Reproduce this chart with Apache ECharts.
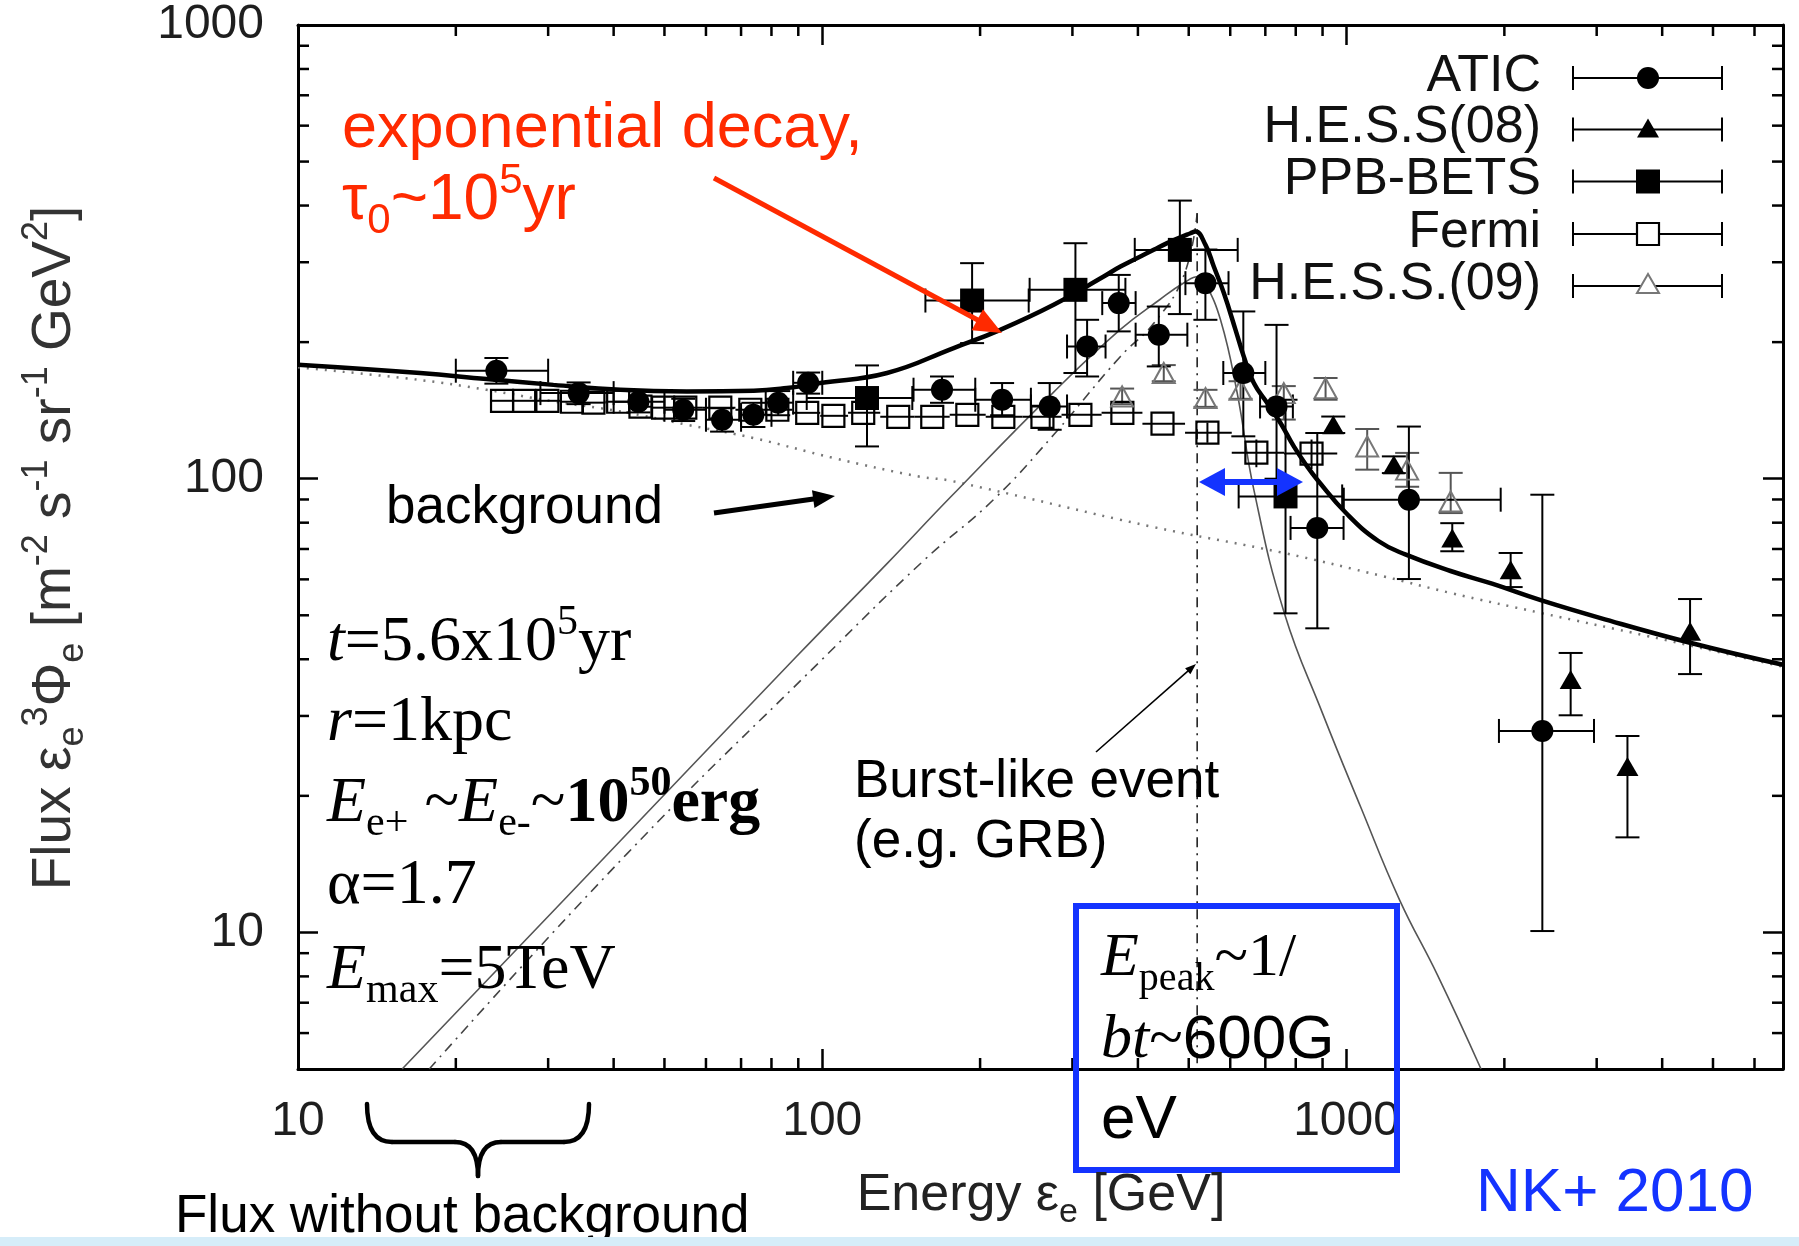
<!DOCTYPE html>
<html><head><meta charset="utf-8">
<script src="https://cdn.jsdelivr.net/npm/echarts@6/dist/echarts.min.js"></script>
<style>html,body{margin:0;padding:0;background:#fff}#c{width:1799px;height:1246px}</style>
</head><body><div id="c"></div><script>
// ---------- axis / tick data ----------
const xTickLabels = [10, 100, 1000];
const yTickLabels = [10, 100, 1000];
const xMinorTicks = [20,30,40,50,60,70,80,90,200,300,400,500,600,700,800,900,2000,3000,4000,5000,6000];
const yMinorTicks = [6,7,8,9,20,30,40,50,60,70,80,90,200,300,400,500,600,700,800,900];
const legendNames = ['ATIC','H.E.S.S(08)','PPB-BETS','Fermi','H.E.S.S.(09)'];

// ---------- ATIC ----------
const aticE   = [23.9,34.3,44.6,54.3,64.4,73.9,82.4,94.0,169.2,220.3,271.5,320,367.7,438.4,538,635.5,735.3,879.4,1315,2363];
const aticV   = [173,154.4,147.8,141.9,134.9,138.3,147.1,162.7,157.1,149.3,144.3,195.6,243.8,207.7,269.8,171,144.3,77.9,89.9,27.8];
const aticVlo = [162,146,140,134,127,130,138,154,147,138,128.2,168,211.2,176.8,224,124,100,46.8,60.1,10.07];
const aticVhi = [184.5,163,156,150,143,147,156,171.4,168,162.5,162.5,224,281.3,239.6,320,233.7,218.3,126.1,130.3,92.2];
const aticElo = [20,29,40,50,60,70,78,88,149.3,195.8,250,293,342,396,492.8,582,684,782,988,1953];
const aticEhi = [30,40,50,60,70,80,88,100,195.8,250,293,347,396,497,595.5,700,790,987,1968,2965];

// ---------- H.E.S.S (08) ----------
const hess08E   = [943.3,1231,1591,2056,2676,3434,4521];
const hess08V   = [131.5,107.4,74.0,63.0,36.1,23.2,46.1];
const hess08Vlo = [126.1,102.9,69.2,57.7,30.1,16.2,37.1];
const hess08Vhi = [137.1,112,79.8,68.6,41.3,27.1,54.3];

// ---------- PPB-BETS ----------
const ppbE   = [121.7,193.1,304,480.9,764.9];
const ppbV   = [150.6,247,260.8,319.4,91.4];
const ppbVlo = [117.8,199,171,230.6,50.5];
const ppbVhi = [177.7,298.6,330.4,410.2,149.3];
const ppbElo = [93.4,157.3,248.6,394.5,622.6];
const ppbEhi = [148.5,247.6,378.6,620,981];

// ---------- Fermi ----------
const fermiE   = [24.5,27.0,29.9,33.3,36.6,40.8,45.0,49.7,54.8,63.9,72.9,82.1,93.6,105,119.7,139.6,162.1,189.1,221.5,263,310.7,373.6,445.6,542.8,673,857.5];
const fermiV   = [148.5,148.5,148.5,147.8,147.1,147.8,144.1,143.4,143.4,143.4,141.9,141.9,139.7,137.6,139.7,136.9,136.9,138.3,136.9,136.9,138.3,139.7,132.2,126.3,114.1,113.6];
const fermiVlo = [null,null,null,null,null,null,null,null,null,null,null,null,null,null,null,null,null,null,null,null,null,null,null,120,106,105];
const fermiVhi = [null,null,null,null,null,null,null,null,null,null,null,null,null,null,null,null,null,null,null,null,null,null,null,133,122,122];
const fermiElo = [23.3,25.7,28.4,31.6,34.9,38.6,42.9,47.3,52.2,59.2,68.3,77.4,87.7,99.1,112,129,150,175,205,241,286,341,408,492,604,760];
const fermiEhi = [25.7,28.4,31.6,34.9,38.6,42.9,47.3,52.2,59.2,68.3,77.4,87.7,99.1,112,129,150,175,205,241,286,341,408,492,604,760,960];

// ---------- H.E.S.S. (09) ----------
const hess09E   = [373.2,448.1,538.2,627.9,759.1,912,1095,1305,1580];
const hess09V   = [151.8,171,150.6,157.1,154.4,158.4,117.8,104.7,89.1];
const hess09Vlo = [146,164,144,150,135,149.3,104.7,96,84];
const hess09Vhi = [158,178,157,164,160,166.7,128.7,114,103];

// ---------- model curves ----------
const totalE = [10,17.1,22.9,30.7,41.2,55.2,74,85.6,99.1,132.9,178.1,218.6,276.3,344.2,370.5,428.8,454.7,503.9,515,538.2,558.2,583.4,614.1,636.8,665.5,705.9,748.2,793.3,841.4,879.4,1000,1150,1298,1579,1895,2346,3052,4521,6800];
const totalV = [178.4,171,165.8,161,157,155.7,156.2,158.4,162.5,171,194.1,212.9,241.7,279,293.5,319.5,330.5,347.6,350.5,327.6,293.5,256.5,212.9,185.9,162.5,146.8,132.7,117.8,106.4,99.5,83.8,72.9,68.0,62.6,58.7,54.0,49.3,43.5,38.9];
const bgE = [10,17.1,22.9,30.7,41.2,55.2,74,105,153.6,175.5,422.7,759,1178,1579,2346,3785,6800];
const bgV = [176,165,157,148,140.7,131.5,122.9,111.1,101,99,78.5,68.6,60.9,56,50.6,44.9,38.5];
const decayE = [15.8,37.7,89.2,132.9,175.5,276,370,440,489,522.6,534.2,574.9,618.6,665.5,761.6,900,1066,1262,1492,1805];
const decayV = [5,14.3,40.5,65,91,155,213,248,270,279,274.4,224,154.5,94.6,50.4,30.4,18.8,11.8,8.04,5.0];
const burstE = [17.8,42.4,100,156.1,212.3,276.3,370.5,428.8,489,518.9];
const burstV = [5,14.9,40,66,90,125,186,220,280,384.8];
const burstCutE = [518.9,518.9];
const burstCutV = [384.8,5];

// ---------- helpers ----------
const pairs = (a, b) => a.map((v, i) => [v, b[i]]);
const SANS = 'Liberation Sans', SERIF = 'Liberation Serif';

function errSeries(E, V, lo, hi, elo, ehi, color, cap, lw) {
  return {
    type: 'custom', coordinateSystem: 'cartesian2d', silent: true, z: 3, clip: true,
    data: pairs(E, V), encode: {x: 0, y: 1},
    renderItem: (params, api) => {
      const i = params.dataIndex;
      const c = api.coord([E[i], V[i]]);
      const ch = [];
      const L = (x1, y1, x2, y2) => ch.push({type: 'line', shape: {x1, y1, x2, y2}, style: {stroke: color, lineWidth: lw}});
      if (lo && lo[i] != null) {
        const a = api.coord([E[i], lo[i]]), b = api.coord([E[i], hi[i]]);
        L(c[0], a[1], c[0], b[1]);
        if (cap > 0) { L(c[0]-cap, a[1], c[0]+cap, a[1]); L(c[0]-cap, b[1], c[0]+cap, b[1]); }
      }
      if (elo && elo[i] != null) {
        const a = api.coord([elo[i], V[i]]), b = api.coord([ehi[i], V[i]]);
        L(a[0], c[1], b[0], c[1]);
        if (cap > 0) { L(a[0], c[1]-cap, a[0], c[1]+cap); L(b[0], c[1]-cap, b[0], c[1]+cap); }
      }
      return {type: 'group', children: ch};
    }
  };
}
function markSeries(E, V, symbol, size, itemStyle) {
  return {type: 'scatter', data: pairs(E, V), symbol, symbolSize: size, itemStyle: Object.assign({opacity: 1}, itemStyle), z: 4, silent: true, clip: true};
}
function lineSeries(E, V, style, z, smooth) {
  return {type: 'line', data: pairs(E, V), showSymbol: false, symbol: 'none', smooth: smooth || false, lineStyle: style, z: z, silent: true, clip: true};
}
const tickFmt = list => v => { const r = Math.round(v); return (list.indexOf(r) >= 0 && Math.abs(v - r) < 0.01) ? String(r) : ''; };

const minorX = {
  type: 'custom', coordinateSystem: 'cartesian2d', silent: true, z: 6, clip: false,
  data: xMinorTicks.map(v => [v, 10]), encode: {x: 0, y: 1},
  renderItem: (params, api) => {
    const p = api.coord([api.value(0), 10]); const cs = params.coordSys;
    const st = () => ({stroke: '#000', lineWidth: 2.5});
    return {type: 'group', children: [
      {type: 'line', shape: {x1: p[0], y1: cs.y + cs.height, x2: p[0], y2: cs.y + cs.height - 11}, style: st()},
      {type: 'line', shape: {x1: p[0], y1: cs.y, x2: p[0], y2: cs.y + 11}, style: st()}]};
  }
};
const minorY = {
  type: 'custom', coordinateSystem: 'cartesian2d', silent: true, z: 6, clip: false,
  data: yMinorTicks.map(v => [100, v]), encode: {x: 0, y: 1},
  renderItem: (params, api) => {
    const p = api.coord([100, api.value(1)]); const cs = params.coordSys;
    const st = () => ({stroke: '#000', lineWidth: 2.5});
    return {type: 'group', children: [
      {type: 'line', shape: {x1: cs.x, y1: p[1], x2: cs.x + 11, y2: p[1]}, style: st()},
      {type: 'line', shape: {x1: cs.x + cs.width, y1: p[1], x2: cs.x + cs.width - 11, y2: p[1]}, style: st()}]};
  }
};

const axisCommon = {
  type: 'log', logBase: 10,
  axisLine: {show: true, onZero: false, lineStyle: {color: '#000', width: 3}},
  axisTick: {show: true, inside: true, length: 20, lineStyle: {color: '#000', width: 2.5}},
  splitLine: {show: false}, minorTick: {show: false}
};

// ---------- graphic annotations ----------
const RED = '#ff2a00', BLUE = '#1433ff';
function arrow(x1, y1, x2, y2, color, w, hl, hw) {
  const dx = x2 - x1, dy = y2 - y1, Ln = Math.hypot(dx, dy), ux = dx / Ln, uy = dy / Ln;
  const bx = x2 - ux * hl, by = y2 - uy * hl;
  return [
    {type: 'line', z: 100, silent: true, shape: {x1, y1, x2: bx + ux * 2, y2: by + uy * 2}, style: {stroke: color, lineWidth: w}},
    {type: 'polygon', z: 100, silent: true, shape: {points: [[x2, y2], [bx - uy * hw, by + ux * hw], [bx + uy * hw, by - ux * hw]]}, style: {fill: color}}
  ];
}
function plain(x, y, text, size, color, align) {
  return {type: 'text', x, y, z: 100, silent: true,
    style: {text, fontFamily: SANS, fontSize: size, fill: color, align: align || 'left', verticalAlign: 'middle', textAlign: align || 'left', textVerticalAlign: 'middle'}};
}
function rich(x, y, text, richStyles, align) {
  return {type: 'text', x, y, z: 100, silent: true,
    style: {text, rich: richStyles, fill: '#000', align: align || 'left', verticalAlign: 'middle', textAlign: align || 'left', textVerticalAlign: 'middle'}};
}
function richSet(family, size, color, lh) {
  return {
    n: {fontFamily: family, fontSize: size, fill: color, lineHeight: lh},
    i: {fontFamily: family, fontSize: size, fontStyle: 'italic', fill: color, lineHeight: lh},
    b: {fontFamily: family, fontSize: size, fontWeight: 'bold', fill: color, lineHeight: lh},
    s: {fontFamily: SANS, fontSize: size, fill: color, lineHeight: lh},
    sub: {fontFamily: family, fontSize: Math.round(size * 0.65), fill: color, lineHeight: Math.round(size * 0.6), verticalAlign: 'bottom'},
    sup: {fontFamily: family, fontSize: Math.round(size * 0.65), fill: color, lineHeight: Math.round(size * 0.9), verticalAlign: 'top'},
    bsup: {fontFamily: family, fontSize: Math.round(size * 0.65), fontWeight: 'bold', fill: color, lineHeight: Math.round(size * 0.9), verticalAlign: 'top'}
  };
}
const serif = richSet(SERIF, 64, '#000', 82);
const serifBox = richSet(SERIF, 62, '#000', 80);
const redR = richSet(SANS, 64, RED, 82);
const axR = richSet(SANS, 55, '#333', 72);
const xnR = richSet(SANS, 52, '#222', 68);

const legendRowsY = [78, 129.5, 181.5, 234, 286];
const legendGraphics = [];
legendNames.forEach((nm, k) => {
  const y = legendRowsY[k];
  legendGraphics.push(plain(1541, y - 1.5, nm, 52, '#111', 'right'));
  const st = () => ({stroke: '#000', lineWidth: 2});
  legendGraphics.push({type: 'line', z: 100, silent: true, shape: {x1: 1573, y1: y, x2: 1722, y2: y}, style: st()});
  legendGraphics.push({type: 'line', z: 100, silent: true, shape: {x1: 1573, y1: y - 12, x2: 1573, y2: y + 12}, style: st()});
  legendGraphics.push({type: 'line', z: 100, silent: true, shape: {x1: 1722, y1: y - 12, x2: 1722, y2: y + 12}, style: st()});
});
const lx = 1648;
legendGraphics.push({type: 'circle', z: 101, silent: true, shape: {cx: lx, cy: legendRowsY[0], r: 11}, style: {fill: '#000'}});
legendGraphics.push({type: 'polygon', z: 101, silent: true, shape: {points: [[lx, legendRowsY[1] - 11], [lx - 11, legendRowsY[1] + 8], [lx + 11, legendRowsY[1] + 8]]}, style: {fill: '#000'}});
legendGraphics.push({type: 'rect', z: 101, silent: true, shape: {x: lx - 12, y: legendRowsY[2] - 12, width: 24, height: 24}, style: {fill: '#000'}});
legendGraphics.push({type: 'rect', z: 101, silent: true, shape: {x: lx - 11, y: legendRowsY[3] - 11, width: 22, height: 22}, style: {fill: '#fff', stroke: '#000', lineWidth: 2.2}});
legendGraphics.push({type: 'polygon', z: 101, silent: true, shape: {points: [[lx, legendRowsY[4] - 12], [lx - 11, legendRowsY[4] + 7], [lx + 11, legendRowsY[4] + 7]]}, style: {fill: '#fff', stroke: '#777', lineWidth: 2}});

const braceStyle = () => ({stroke: '#000', lineWidth: 4.5, fill: null, lineCap: 'round'});
const graphics = [].concat(
  legendGraphics,
  [
    plain(342, 130, 'exponential decay,', 63, RED),
    rich(342, 201, '{n|τ}{sub|0}{n|~10}{sup|5}{n|yr}', redR),
    plain(386, 508, 'background', 53, '#000'),
    rich(327, 643, '{i|t}{n|=5.6x10}{sup|5}{n|yr}', serif),
    rich(327, 723, '{i|r}{n|=1kpc}', serif),
    rich(327, 804, '{i|E}{sub|e+}{n| ~}{i|E}{sub|e-}{n|~}{b|10}{bsup|50}{b|erg}', serif),
    rich(327, 886, '{n|α=1.7}', serif),
    rich(327, 971, '{i|E}{sub|max}{n|=5TeV}', serif),
    plain(854, 782, 'Burst-like event', 53, '#000'),
    plain(854, 842, '(e.g. GRB)', 53, '#000'),
    {type: 'rect', z: 100, silent: true, shape: {x: 1076, y: 906, width: 321, height: 264}, style: {fill: null, stroke: BLUE, lineWidth: 6}},
    rich(1101, 959, '{i|E}{sub|peak}{n|~1/}', serifBox),
    rich(1101, 1041, '{i|bt}{n|~}{s|600G}', serifBox),
    rich(1101, 1121, '{s|eV}', serifBox),
    plain(1476, 1194, 'NK+ 2010', 62, BLUE),
    rich(1041, 1196, '{n|Energy ε}{sub|e}{n| [GeV]}', xnR, 'center'),
    {type: 'text', x: 55, y: 548, rotation: Math.PI / 2, z: 100, silent: true,
      style: {text: '{n|Flux ε}{sub|e}{sup|3}{n|Φ}{sub|e}{n| [m}{sup|-2}{n| s}{sup|-1}{n| sr}{sup|-1}{n| GeV}{sup|2}{n|]}', rich: axR,
        align: 'center', verticalAlign: 'middle', textAlign: 'center', textVerticalAlign: 'middle'}},
    plain(175, 1217, 'Flux without background', 53, '#000'),
    {type: 'bezierCurve', z: 100, silent: true, shape: {x1: 367, y1: 1104, cpx1: 367, cpy1: 1142, x2: 392, y2: 1142}, style: braceStyle()},
    {type: 'line', z: 100, silent: true, shape: {x1: 392, y1: 1142, x2: 455, y2: 1142}, style: braceStyle()},
    {type: 'bezierCurve', z: 100, silent: true, shape: {x1: 455, y1: 1142, cpx1: 478, cpy1: 1142, x2: 478, y2: 1176}, style: braceStyle()},
    {type: 'bezierCurve', z: 100, silent: true, shape: {x1: 478, y1: 1176, cpx1: 478, cpy1: 1142, x2: 501, y2: 1142}, style: braceStyle()},
    {type: 'line', z: 100, silent: true, shape: {x1: 501, y1: 1142, x2: 564, y2: 1142}, style: braceStyle()},
    {type: 'bezierCurve', z: 100, silent: true, shape: {x1: 564, y1: 1142, cpx1: 589, cpy1: 1142, x2: 589, y2: 1104}, style: braceStyle()},
    {type: 'rect', z: 110, silent: true, shape: {x: 0, y: 1237, width: 1799, height: 9}, style: {fill: '#d6edf9'}}
  ],
  arrow(714, 178, 1002, 333, RED, 5, 28, 12),
  arrow(714, 513, 835, 496, '#000', 5, 22, 9),
  arrow(1096, 752, 1196, 664, '#000', 1.6, 11, 4),
  arrow(1251, 482, 1199, 482, BLUE, 6, 26, 14),
  arrow(1251, 482, 1303, 482, BLUE, 6, 26, 14)
);

const option = {
  animation: false,
  backgroundColor: '#fff',
  textStyle: {fontFamily: SANS},
  grid: {left: 298, top: 25, right: 16, bottom: 177, containLabel: false},
  xAxis: [
    Object.assign({}, axisCommon, {position: 'bottom', min: 10, max: 6800,
      axisLabel: {show: true, formatter: tickFmt(xTickLabels), fontSize: 48, color: '#1e1e1e', fontFamily: SANS, margin: 29, showMinLabel: true, showMaxLabel: true}}),
    Object.assign({}, axisCommon, {position: 'top', min: 10, max: 6800, axisLabel: {show: false}})
  ],
  yAxis: [
    Object.assign({}, axisCommon, {position: 'left', min: 5, max: 1000,
      axisLabel: {show: true, formatter: tickFmt(yTickLabels), fontSize: 48, color: '#1e1e1e', fontFamily: SANS, margin: 34, showMinLabel: true, showMaxLabel: true}}),
    Object.assign({}, axisCommon, {position: 'right', min: 5, max: 1000, axisLabel: {show: false}})
  ],
  series: [
    lineSeries(bgE, bgV, {color: '#777', width: 2.5, type: [2, 7]}, 2, 0.4),
    lineSeries(decayE, decayV, {color: '#555', width: 1.6}, 2, 0.45),
    lineSeries(burstE, burstV, {color: '#444', width: 1.6, type: [10, 6, 2, 6]}, 2, 0.45),
    lineSeries(burstCutE, burstCutV, {color: '#222', width: 1.6, type: [10, 6, 2, 6]}, 2),
    errSeries(fermiE, fermiV, fermiVlo, fermiVhi, fermiElo, fermiEhi, '#000', 0, 2),
    markSeries(fermiE, fermiV, 'rect', 22, {color: 'rgba(255,255,255,0)', borderColor: '#000', borderWidth: 2.2}),
    errSeries(hess09E, hess09V, hess09Vlo, hess09Vhi, null, null, '#555', 12, 2),
    markSeries(hess09E, hess09V, 'triangle', [22, 20], {color: 'rgba(255,255,255,0)', borderColor: '#777', borderWidth: 2}),
    errSeries(aticE, aticV, aticVlo, aticVhi, aticElo, aticEhi, '#000', 12, 2),
    markSeries(aticE, aticV, 'circle', 22, {color: '#000'}),
    errSeries(hess08E, hess08V, hess08Vlo, hess08Vhi, null, null, '#000', 12, 2),
    markSeries(hess08E, hess08V, 'triangle', [22, 19], {color: '#000'}),
    errSeries(ppbE, ppbV, ppbVlo, ppbVhi, ppbElo, ppbEhi, '#000', 12, 2),
    markSeries(ppbE, ppbV, 'rect', 24, {color: '#000'}),
    lineSeries(totalE, totalV, {color: '#000', width: 4.5}, 5, 0.45),
    minorX, minorY
  ],
  graphic: {elements: graphics}
};
const chart = echarts.init(document.getElementById('c'), null, {renderer: 'canvas', width: 1799, height: 1246});
chart.setOption(option);
</script></body></html>
